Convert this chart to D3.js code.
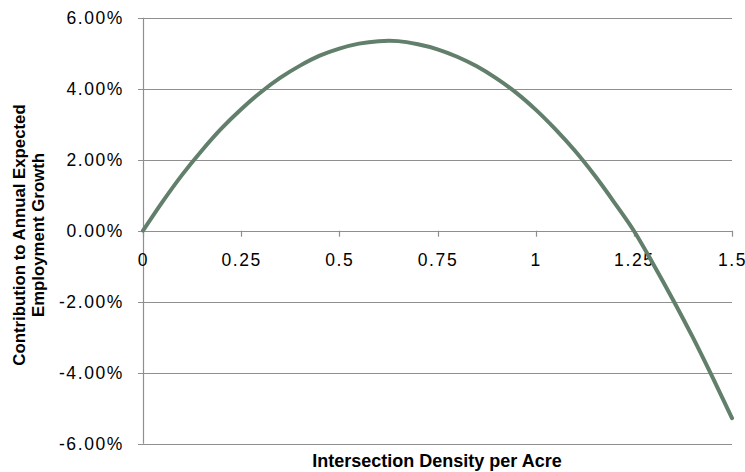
<!DOCTYPE html>
<html>
<head>
<meta charset="utf-8">
<script src="https://cdn.jsdelivr.net/npm/d3@7"></script>
<style>
  body { margin: 0; background: #fff; }
  svg text { font-family: "Liberation Sans", Arial, sans-serif; fill: #000; }
  .tick-label { font-size: 17.5px; letter-spacing: 1.6px; }
  .x-title { font-size: 18px; font-weight: bold; }
  .y-title { font-size: 16.8px; font-weight: bold; }
</style>
</head>
<body>
<script>
// values
let density = [0, 0.05, 0.1, 0.15, 0.2, 0.25, 0.3, 0.35, 0.4, 0.45, 0.5, 0.55, 0.6, 0.65, 0.7, 0.75,
               0.8, 0.85, 0.9, 0.95, 1.0, 1.05, 1.1, 1.15, 1.2, 1.25, 1.3, 1.35, 1.4, 1.45, 1.5]
let growth = [0, 0.82, 1.58, 2.26, 2.88, 3.42, 3.9, 4.31, 4.65, 4.93, 5.13, 5.27, 5.34, 5.34, 5.25, 5.11,
              4.9, 4.63, 4.29, 3.89, 3.41, 2.86, 2.25, 1.56, 0.8, 0.0, -0.95, -1.95, -3.0, -4.12, -5.28]
let xTicks = [0, 0.25, 0.5, 0.75, 1, 1.25, 1.5]
let yTicks = [-6, -4, -2, 0, 2, 4, 6]

let width = 745
let height = 472
let plotLeft = 143, plotRight = 732, plotTop = 17.7, plotBottom = 443.7

let svg = d3.select('body')
    .append('svg')
    .attr('width', width)
    .attr('height', height)

let xScale = d3.scaleLinear().domain([0, 1.5]).range([plotLeft, plotRight])
let yScale = d3.scaleLinear().domain([-6, 6]).range([plotBottom, plotTop])

// horizontal gridlines
svg.append('g')
    .selectAll('line')
    .data(yTicks)
    .enter().append('line')
    .attr('x1', plotLeft - 5)
    .attr('x2', plotRight)
    .attr('y1', d => Math.round(yScale(d)) + 0.5)
    .attr('y2', d => Math.round(yScale(d)) + 0.5)
    .attr('stroke', '#8f8f8f')
    .attr('stroke-width', 1.2)

// y axis line
svg.append('line')
    .attr('x1', plotLeft + 0.5).attr('x2', plotLeft + 0.5)
    .attr('y1', plotTop).attr('y2', plotBottom)
    .attr('stroke', '#8f8f8f')
    .attr('stroke-width', 1.2)

// x axis ticks at zero line
svg.append('g')
    .selectAll('line')
    .data(xTicks)
    .enter().append('line')
    .attr('x1', d => Math.round(xScale(d)) + 0.5)
    .attr('x2', d => Math.round(xScale(d)) + 0.5)
    .attr('y1', yScale(0))
    .attr('y2', yScale(0) + 6)
    .attr('stroke', '#8f8f8f')
    .attr('stroke-width', 1.2)

// y tick labels (plain hyphen for negatives, like the original)
svg.append('g')
    .selectAll('text')
    .data(yTicks)
    .enter().append('text')
    .attr('class', 'tick-label')
    .attr('x', plotLeft - 19)
    .attr('y', d => yScale(d) + 6.5)
    .attr('text-anchor', 'end')
    .text(d => d.toFixed(2) + '%')

// x tick labels
svg.append('g')
    .selectAll('text')
    .data(xTicks)
    .enter().append('text')
    .attr('class', 'tick-label')
    .attr('x', d => xScale(d) + 0.5)
    .attr('y', yScale(0) + 35)
    .attr('text-anchor', 'middle')
    .text(d => String(d))

// the curve
let line = d3.line()
    .x((d, i) => xScale(density[i]))
    .y(d => yScale(d))
    .curve(d3.curveCatmullRom)

svg.append('path')
    .datum(growth)
    .attr('d', line)
    .attr('fill', 'none')
    .attr('stroke', '#627f6c')
    .attr('stroke-width', 4)
    .attr('stroke-linecap', 'round')

// axis titles
svg.append('text')
    .attr('class', 'x-title')
    .attr('x', 437)
    .attr('y', 467)
    .attr('text-anchor', 'middle')
    .text('Intersection Density per Acre')

let yTitle = svg.append('text')
    .attr('class', 'y-title')
    .attr('transform', 'translate(24.5,' + 235 + ') rotate(-90)')
    .attr('text-anchor', 'middle')

yTitle.append('tspan').attr('x', 0).attr('y', 0).text('Contribution to Annual Expected')
yTitle.append('tspan').attr('x', 0).attr('y', 19.5).text('Employment Growth')
</script>
</body>
</html>
